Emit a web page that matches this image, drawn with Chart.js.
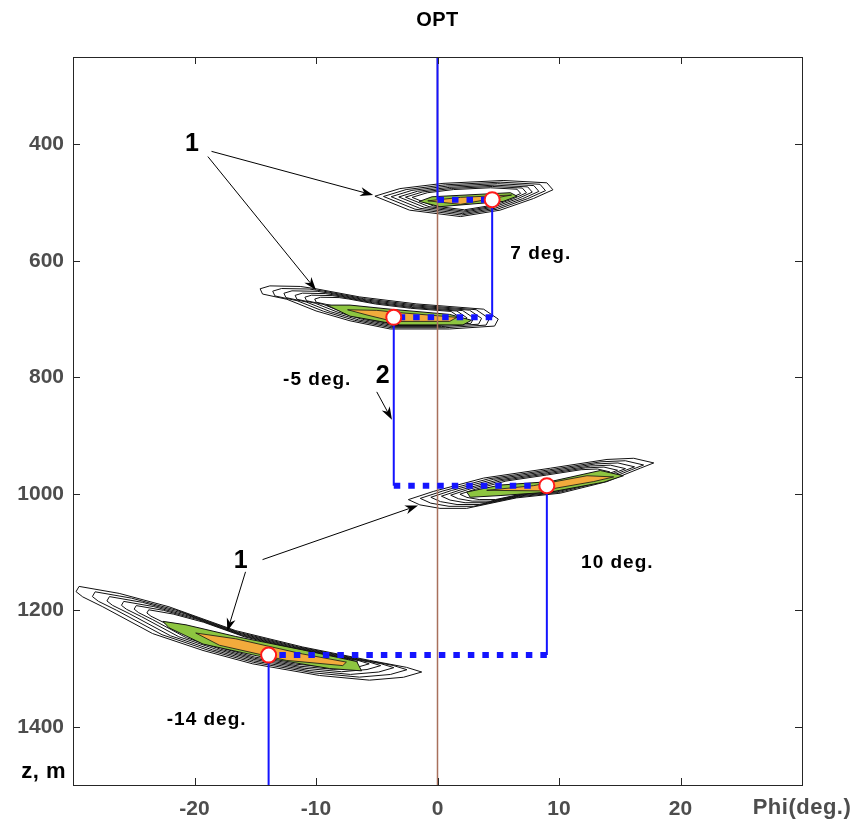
<!DOCTYPE html>
<html>
<head>
<meta charset="utf-8">
<title>OPT</title>
<script src="https://cdn.jsdelivr.net/npm/chart.js@4.4.1/dist/chart.umd.min.js"></script>
<style>
  html, body { margin: 0; padding: 0; background: #fff; }
  #wrap { width: 855px; height: 823px; position: relative; }
</style>
</head>
<body>
<div id="wrap"><canvas id="optChart"></canvas></div>
<script>
// ---- values ----
const xTicks = [-20, -10, 0, 10, 20];
const zTicks = [400, 600, 800, 1000, 1200, 1400];
const phiRange = [-30, 30];
const zRange = [250, 1500];

// crossing points of the layers (phi in deg, z in m)
const layerPhi = [4.5, -3.6, 9.0, -13.9];
const layerZ = [495, 697, 986, 1277];
const tiltLabels = ['7 deg.', '-5 deg.', '10 deg.', '-14 deg.'];
const tiltLabelPos = [[8.5, 588], [-9.9, 805], [14.8, 1119], [-19.0, 1388]];

// contour outlines, [phi, z]
const blob1Outer = [[-5.15, 489], [-3.1, 476], [0.45, 467], [5.4, 462], [9.0, 466], [9.5, 478],
  [7.9, 493], [5.15, 513], [1.9, 524], [-2.3, 513]];
const blob1Green = [[-1.5, 498], [-0.45, 490], [6.0, 483], [6.55, 489], [5.4, 498], [0.2, 507]];
const blob1Orange = [[-0.8, 497], [1.9, 491], [6.1, 487], [1.9, 503]];

const blob2Outer = [[-14.6, 648], [-13.8, 643], [-11.3, 644], [-10.0, 648], [-6.4, 662], [-1.7, 674],
  [3.8, 683], [5.0, 700], [4.7, 712], [1.0, 717], [-3.9, 717], [-7.2, 703], [-10.0, 686],
  [-12.4, 666], [-14.4, 657]];
const blob2Green = [[-9.1, 676], [-7.2, 676], [-3.9, 683], [1.0, 692], [2.8, 702], [2.1, 710],
  [-3.1, 710], [-7.2, 695]];
const blob2Orange = [[-7.4, 684], [-5.0, 685], [-3.1, 689], [1.6, 697], [1.0, 704], [-3.65, 704],
  [-5.8, 693]];

const blob3Outer = [[-2.4, 1010], [-0.35, 996], [3.8, 973], [9.3, 956], [13.95, 941], [16.15, 939],
  [17.8, 947], [16.7, 956], [13.95, 979], [10.1, 999], [6.5, 1007], [2.4, 1025], [0.2, 1025],
  [-1.45, 1019]];
const blob3Green = [[2.4, 997], [5.15, 985], [9.3, 979], [13.4, 960], [15.3, 969], [13.7, 980],
  [9.3, 997], [5.15, 1003], [2.7, 1006]];
const blob3Orange = [[4.05, 994], [7.9, 986], [12.3, 969], [14.5, 971], [12.85, 979], [8.45, 995]];

const blob4Outer = [[-29.75, 1168], [-29.5, 1159], [-26.2, 1171], [-22.1, 1194], [-16.6, 1235],
  [-11.1, 1263], [-5.6, 1286], [-2.55, 1298], [-1.3, 1306], [-2.8, 1315], [-5.6, 1320],
  [-9.7, 1312], [-15.2, 1292], [-19.3, 1269], [-23.45, 1240], [-27.55, 1194], [-29.2, 1177]];
const blob4Green = [[-22.6, 1219], [-20.7, 1225], [-16.6, 1245], [-11.1, 1268], [-6.65, 1288],
  [-6.25, 1304], [-8.9, 1300], [-13.8, 1283], [-19.3, 1258], [-22.1, 1230]];
const blob4Orange = [[-19.9, 1239], [-16.6, 1249], [-11.1, 1275], [-7.5, 1289], [-7.8, 1295],
  [-12.45, 1286], [-17.95, 1260]];

// callouts: text, text position, arrows [from, to]
const calloutText = ['1', '1', '2'];
const calloutPos = [[-20.2, 400], [-16.2, 1115], [-4.5, 798]];
const calloutArrows = [
  [[-18.6, 412], [-5.3, 487]],
  [[-18.9, 421], [-10.0, 650]],
  [[-14.4, 1113], [-1.6, 1020]],
  [[-15.8, 1134], [-17.3, 1236]],
  [[-5.0, 825], [-3.75, 873]]
];

const blobs = [
  { outer: blob1Outer, green: blob1Green, orange: blob1Orange },
  { outer: blob2Outer, green: blob2Green, orange: blob2Orange },
  { outer: blob3Outer, green: blob3Green, orange: blob3Orange },
  { outer: blob4Outer, green: blob4Green, orange: blob4Orange }
];

const FONT = "'Liberation Sans', Arial, Helvetica, sans-serif";
const BLUE = '#1414ff';

// ---- build line segments from the layer points ----
const pt = (x, y) => ({ x: x, y: y });
const verticals = [];
const dotted = [];
let prevPhi = 0, prevZ = zRange[0];
for (let i = 0; i < layerPhi.length; i++) {
    verticals.push([pt(prevPhi, prevZ), pt(prevPhi, layerZ[i])]);
    dotted.push([pt(prevPhi, layerZ[i]), pt(layerPhi[i], layerZ[i])]);
    prevPhi = layerPhi[i];
    prevZ = layerZ[i];
}
verticals.push([pt(prevPhi, prevZ), pt(prevPhi, zRange[1])]);

const datasets = [];
datasets.push({
    data: layerPhi.map((p, i) => pt(p, layerZ[i])),
    showLine: false, pointRadius: 7.5, pointBackgroundColor: '#fff',
    pointBorderColor: '#ff1a1a', pointBorderWidth: 2, order: 0
});
dotted.forEach(seg => datasets.push({
    data: seg, showLine: true, pointRadius: 0, borderColor: BLUE,
    borderWidth: 6, borderDash: [6.5, 8], borderCapStyle: 'butt', order: 1
}));
verticals.forEach(seg => datasets.push({
    data: seg, showLine: true, pointRadius: 0, borderColor: BLUE, borderWidth: 2, order: 2
}));
datasets.push({
    data: [pt(0, zRange[0]), pt(0, zRange[1])], showLine: true, pointRadius: 0,
    borderColor: '#a8705c', borderWidth: 1.5, order: 3
});

// ---- plugins ----
function toPx(chart, p) {
    return [chart.scales.x.getPixelForValue(p[0]), chart.scales.y.getPixelForValue(p[1])];
}
function polyPath(ctx, pts) {
    ctx.beginPath();
    pts.forEach((p, i) => i ? ctx.lineTo(p[0], p[1]) : ctx.moveTo(p[0], p[1]));
    ctx.closePath();
}

const contourPlugin = {
    id: 'contours',
    beforeDatasetsDraw(chart) {
        const ctx = chart.ctx;
        const a = chart.chartArea;
        ctx.save();
        ctx.beginPath();
        ctx.rect(a.left, a.top, a.right - a.left, a.bottom - a.top);
        ctx.clip();
        ctx.lineJoin = 'round';
        blobs.forEach(b => {
            const outer = b.outer.map(p => toPx(chart, p));
            const green = b.green.map(p => toPx(chart, p));
            const orange = b.orange.map(p => toPx(chart, p));
            const cx = green.reduce((s, p) => s + p[0], 0) / green.length;
            const cy = green.reduce((s, p) => s + p[1], 0) / green.length;
            ctx.strokeStyle = '#111';
            ctx.lineWidth = 1;
            [1, 0.91, 0.83, 0.75, 0.68, 0.61].forEach(k => {
                polyPath(ctx, outer.map(p => [cx + (p[0] - cx) * k, cy + (p[1] - cy) * k]));
                ctx.stroke();
            });
            polyPath(ctx, green);
            ctx.fillStyle = '#8dc540';
            ctx.fill();
            ctx.stroke();
            polyPath(ctx, orange);
            ctx.fillStyle = '#f3ab3c';
            ctx.fill();
            ctx.lineWidth = 0.8;
            ctx.stroke();
        });
        ctx.restore();
    }
};

function arrow(ctx, x0, y0, x1, y1) {
    const ang = Math.atan2(y1 - y0, x1 - x0);
    const len = 13, half = 4.5;
    const c = Math.cos(ang), s = Math.sin(ang);
    ctx.beginPath();
    ctx.moveTo(x0, y0);
    ctx.lineTo(x1 - c * len * 0.7, y1 - s * len * 0.7);
    ctx.stroke();
    ctx.beginPath();
    ctx.moveTo(x1, y1);
    ctx.lineTo(x1 - c * len - s * half, y1 - s * len + c * half);
    ctx.lineTo(x1 - c * len * 0.7, y1 - s * len * 0.7);
    ctx.lineTo(x1 - c * len + s * half, y1 - s * len - c * half);
    ctx.closePath();
    ctx.fill();
}

const framePlugin = {
    id: 'frame',
    afterDraw(chart) {
        const ctx = chart.ctx;
        const a = chart.chartArea;
        const xs = chart.scales.x, ys = chart.scales.y;
        ctx.save();
        // box and inward ticks
        ctx.strokeStyle = '#262626';
        ctx.lineWidth = 1;
        ctx.strokeRect(Math.round(a.left) + 0.5, Math.round(a.top) + 0.5,
            Math.round(a.right - a.left), Math.round(a.bottom - a.top));
        ctx.beginPath();
        xTicks.forEach(v => {
            const x = Math.round(xs.getPixelForValue(v)) + 0.5;
            ctx.moveTo(x, a.bottom); ctx.lineTo(x, a.bottom - 7);
            ctx.moveTo(x, a.top); ctx.lineTo(x, a.top + 7);
        });
        zTicks.forEach(v => {
            const y = Math.round(ys.getPixelForValue(v)) + 0.5;
            ctx.moveTo(a.left, y); ctx.lineTo(a.left + 7, y);
            ctx.moveTo(a.right, y); ctx.lineTo(a.right - 7, y);
        });
        ctx.stroke();

        // title and axis names
        ctx.fillStyle = '#000';
        ctx.letterSpacing = '0.5px';
        ctx.font = 'bold 20px ' + FONT;
        ctx.textAlign = 'center';
        ctx.textBaseline = 'middle';
        ctx.fillText('OPT', (a.left + a.right) / 2, 20);
        ctx.font = 'bold 22px ' + FONT;
        ctx.textAlign = 'right';
        ctx.fillText('z, m', a.left - 7, a.bottom - 13);
        ctx.fillStyle = '#4d4d4d';
        ctx.textAlign = 'center';
        ctx.fillText('Phi(deg.)', a.right, a.bottom + 23);

        // tilt labels
        ctx.fillStyle = '#000';
        ctx.letterSpacing = '1px';
        ctx.font = 'bold 19px ' + FONT;
        tiltLabels.forEach((t, i) => {
            const p = toPx(chart, tiltLabelPos[i]);
            ctx.fillText(t, p[0], p[1]);
        });

        // callouts
        ctx.letterSpacing = '0px';
        ctx.font = 'bold 25px ' + FONT;
        calloutText.forEach((t, i) => {
            const p = toPx(chart, calloutPos[i]);
            ctx.fillText(t, p[0], p[1]);
        });
        ctx.strokeStyle = '#000';
        ctx.lineWidth = 1;
        calloutArrows.forEach(ar => {
            const p0 = toPx(chart, ar[0]), p1 = toPx(chart, ar[1]);
            arrow(ctx, p0[0], p0[1], p1[0], p1[1]);
        });
        ctx.restore();
    }
};

const tickFont = { family: FONT, size: 21, weight: 'bold' };

new Chart(document.getElementById('optChart'), {
    type: 'scatter',
    data: { datasets: datasets },
    plugins: [contourPlugin, framePlugin],
    options: {
        responsive: true,
        maintainAspectRatio: false,
        animation: false,
        layout: { padding: { top: 57, right: 53, left: 0, bottom: 0 } },
        plugins: { legend: { display: false }, tooltip: { enabled: false } },
        scales: {
            x: {
                type: 'linear', min: phiRange[0], max: phiRange[1],
                afterBuildTicks: s => { s.ticks = xTicks.map(v => ({ value: v })); },
                afterFit: s => { s.height = 38; },
                grid: { display: false, drawTicks: false },
                border: { display: false },
                ticks: { color: '#4d4d4d', font: tickFont, padding: 12, callback: v => String(v) }
            },
            y: {
                type: 'linear', reverse: true, min: zRange[0], max: zRange[1],
                afterBuildTicks: s => { s.ticks = zTicks.map(v => ({ value: v })); },
                afterFit: s => { s.width = 73; },
                grid: { display: false, drawTicks: false },
                border: { display: false },
                ticks: { color: '#4d4d4d', font: tickFont, padding: 9, callback: v => String(v) }
            }
        }
    }
});
</script>
</body>
</html>
